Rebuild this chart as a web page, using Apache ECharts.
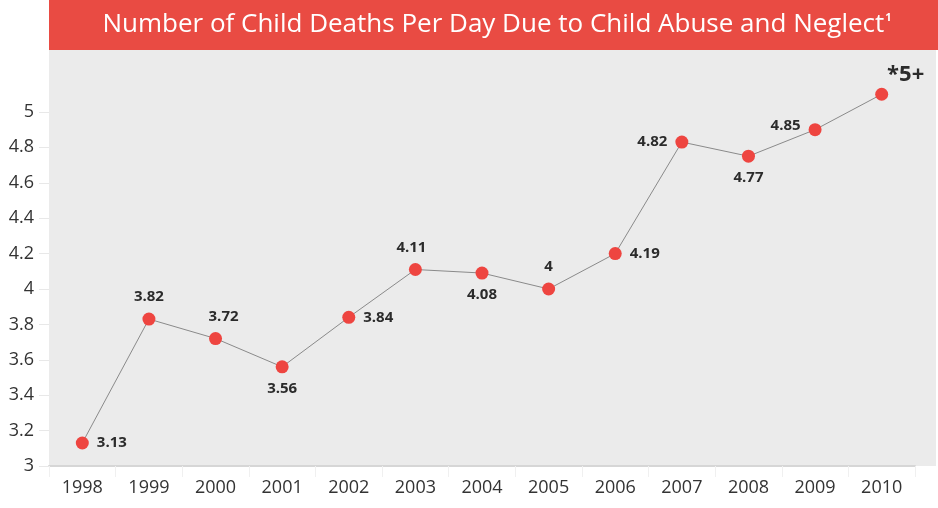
<!DOCTYPE html>
<html>
<head>
<meta charset="utf-8">
<script src="https://cdn.jsdelivr.net/npm/echarts@6/dist/echarts.min.js"></script>
<style>
  html, body { margin: 0; padding: 0; background: #fff; }
  #main { width: 938px; height: 508px; }
</style>
</head>
<body>
<div id="main"></div>
<script>
const years = ['1998', '1999', '2000', '2001', '2002', '2003', '2004', '2005', '2006', '2007', '2008', '2009', '2010'];
const deaths = [3.13, 3.83, 3.72, 3.56, 3.84, 4.11, 4.09, 4, 4.2, 4.83, 4.75, 4.9, 5.1];
const pointLabels = ['3.13', '3.82', '3.72', '3.56', '3.84', '4.11', '4.08', '4', '4.19', '4.82', '4.77', '4.85', '*5+'];
const labelPos = ['right', 'top', 'top', 'bottom', 'right', 'top', 'bottom', 'top', 'right', 'left', 'bottom', 'left', 'top'];
const yTicks = [3, 3.2, 3.4, 3.6, 3.8, 4, 4.2, 4.4, 4.6, 4.8, 5];

const myChart = echarts.init(document.getElementById('main'));

const font = '"Open Sans", "Noto Sans", sans-serif';

const option = {
  animation: false,
  graphic: [
    {
      type: 'rect',
      left: 49, top: 0,
      shape: { width: 889, height: 50 },
      style: { fill: '#e94b43' },
      silent: true
    },
    {
      type: 'rect',
      left: 49, top: 50,
      shape: { width: 887, height: 416 },
      style: { fill: '#ebebeb' },
      silent: true,
      z: -10
    }
  ],
  title: {
    text: '{t|Number of Child Deaths Per Day Due to Child Abuse and Neglect}{s|1}',
    left: 492,
    top: 7,
    textAlign: 'center',
    textStyle: {
      rich: {
        t: { fontFamily: font, fontSize: 26, color: '#fff', fontWeight: 'normal' },
        s: { fontFamily: font, fontSize: 11, color: '#fff', verticalAlign: 'top', padding: [0, 0, 14, 1] }
      }
    }
  },
  grid: { left: 49, right: 23, top: 50, bottom: 42 },
  xAxis: {
    type: 'category',
    data: years,
    boundaryGap: true,
    axisLine: { lineStyle: { color: '#d6d6d6', width: 2 } },
    axisTick: { show: true, length: 11, lineStyle: { color: '#f0f0f0' } },
    axisLabel: { color: '#333', fontSize: 18, fontFamily: font, margin: 13 }
  },
  yAxis: {
    type: 'value',
    min: 3,
    max: 5.35,
    axisLine: { show: false },
    splitLine: { show: false },
    axisTick: { show: true, length: 10, customValues: yTicks, lineStyle: { color: '#e8e8e8' } },
    axisLabel: {
      color: '#333', fontSize: 18, fontFamily: font, margin: 15,
      customValues: yTicks
    }
  },
  series: [
    {
      type: 'line',
      data: deaths.map((v, i) => ({
        value: v,
        label: {
          position: labelPos[i],
          formatter: pointLabels[i],
          fontSize: i === 12 ? 22 : 15,
          offset: i === 12 ? [24, 6] : (i === 2 ? [8, 0] : (i === 5 ? [-4, 0] : (i === 11 ? [0, -4] : [0, 0])))
        }
      })),
      symbol: 'circle',
      symbolSize: 13,
      itemStyle: { color: '#ee4540' },
      lineStyle: { color: '#8a8a8a', width: 1 },
      label: {
        show: true,
        color: '#2b2b2b',
        fontWeight: 'bold',
        fontFamily: font,
        distance: 8
      }
    }
  ]
};

myChart.setOption(option);
</script>
</body>
</html>
